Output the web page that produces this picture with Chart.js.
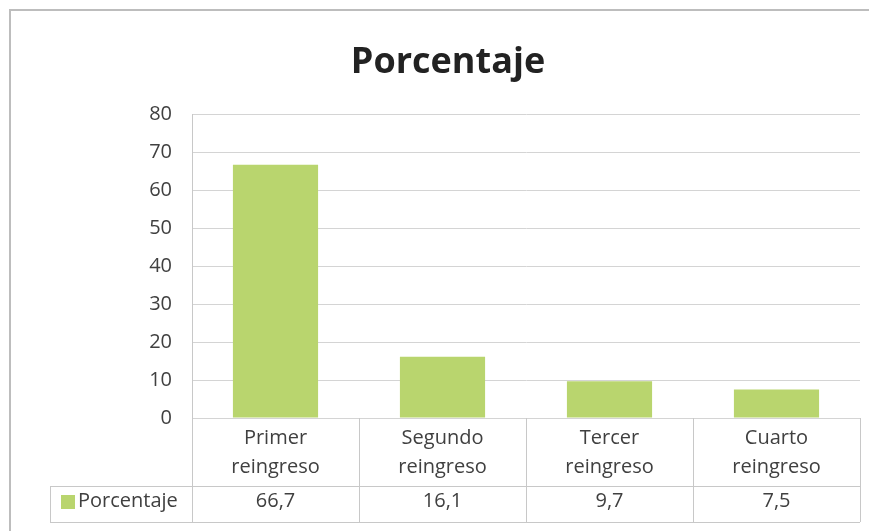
<!DOCTYPE html>
<html lang="es">
<head>
  <meta charset="UTF-8" />
  <title>Porcentaje</title>
  <script src="https://cdn.jsdelivr.net/npm/chart.js"></script>
  <style>
    body {
      margin: 0;
      padding: 0;
      background: #ffffff;
    }
    canvas {
      display: block;
    }
  </style>
</head>
<body>
  <canvas id="chart" width="869" height="531"></canvas>

  <script>
    // datos
    const categories = [['Primer', 'reingreso'], ['Segundo', 'reingreso'], ['Tercer', 'reingreso'], ['Cuarto', 'reingreso']];
    const values = [66.7, 16.1, 9.7, 7.5];
    const valueLabels = ['66,7', '16,1', '9,7', '7,5'];
    const yTicks = [0, 10, 20, 30, 40, 50, 60, 70, 80];
    const seriesName = 'Porcentaje';

    const barColor = '#b9d56e';
    const lineColor = '#c8c8c8';
    const textColor = '#404040';
    const font = '"Open Sans", Lato, sans-serif';

    // frame + data table under the axis
    const tablePlugin = {
      id: 'dataTable',
      beforeDraw(chart) {
        const ctx = chart.ctx;
        ctx.save();
        ctx.fillStyle = '#ffffff';
        ctx.fillRect(0, 0, chart.width, chart.height);
        ctx.strokeStyle = '#bdbdbd';
        ctx.lineWidth = 2;
        ctx.strokeRect(10, 10, chart.width + 20, chart.height + 20);
        ctx.restore();
      },
      afterDraw(chart) {
        const ctx = chart.ctx;
        const area = chart.chartArea;
        const x = chart.scales.x;
        const rowTop = x.bottom;
        const rowBottom = rowTop + 36;
        const tableLeft = 50;

        ctx.save();
        ctx.strokeStyle = lineColor;
        ctx.lineWidth = 1;
        ctx.beginPath();
        ctx.moveTo(tableLeft, rowTop + 0.5);
        ctx.lineTo(area.right, rowTop + 0.5);
        ctx.moveTo(tableLeft, rowBottom + 0.5);
        ctx.lineTo(area.right, rowBottom + 0.5);
        ctx.moveTo(tableLeft + 0.5, rowTop);
        ctx.lineTo(tableLeft + 0.5, rowBottom);
        // vertical lines between categories
        const step = (area.right - area.left) / categories.length;
        for (let i = 0; i <= categories.length; i++) {
          const lx = Math.round(area.left + step * i) + 0.5;
          ctx.moveTo(lx, area.bottom);
          ctx.lineTo(lx, rowBottom);
        }
        ctx.stroke();

        // values row
        ctx.fillStyle = textColor;
        ctx.font = '20px ' + font;
        ctx.textAlign = 'center';
        ctx.textBaseline = 'middle';
        const midY = (rowTop + rowBottom) / 2 - 3;
        valueLabels.forEach((label, i) => {
          ctx.fillText(label, x.getPixelForValue(i), midY);
        });

        // legend key
        ctx.fillStyle = barColor;
        ctx.fillRect(61, midY - 6, 14, 14);
        ctx.fillStyle = textColor;
        ctx.textAlign = 'left';
        ctx.fillText(seriesName, 78, midY);
        ctx.restore();
      }
    };

    new Chart(document.getElementById('chart'), {
      type: 'bar',
      data: {
        labels: categories,
        datasets: [{
          label: seriesName,
          data: values,
          backgroundColor: barColor,
          barPercentage: 0.51,
          categoryPercentage: 1
        }]
      },
      options: {
        responsive: false,
        animation: false,
        layout: {
          padding: { left: 36, right: 9, top: 0, bottom: 45 }
        },
        plugins: {
          legend: { display: false },
          tooltip: { enabled: false },
          title: {
            display: true,
            text: 'Porcentaje',
            color: '#222222',
            font: { family: font, size: 36, weight: 'bold' },
            padding: { top: 41, bottom: 30 }
          }
        },
        scales: {
          x: {
            grid: { display: false, drawTicks: false },
            border: { display: false },
            ticks: {
              color: textColor,
              font: { family: font, size: 20, lineHeight: 1.45 },
              maxRotation: 0,
              padding: 6
            },
            afterFit: s => { s.height = 68; }
          },
          y: {
            min: 0,
            max: 80,
            afterBuildTicks: s => { s.ticks = yTicks.map(v => ({ value: v })); },
            grid: { color: '#d4d4d4', drawTicks: false },
            border: { display: true, color: lineColor },
            ticks: {
              color: textColor,
              font: { family: font, size: 20 },
              padding: 20
            },
            afterFit: s => { s.width = 156; }
          }
        }
      },
      plugins: [tablePlugin]
    });
  </script>
</body>
</html>
